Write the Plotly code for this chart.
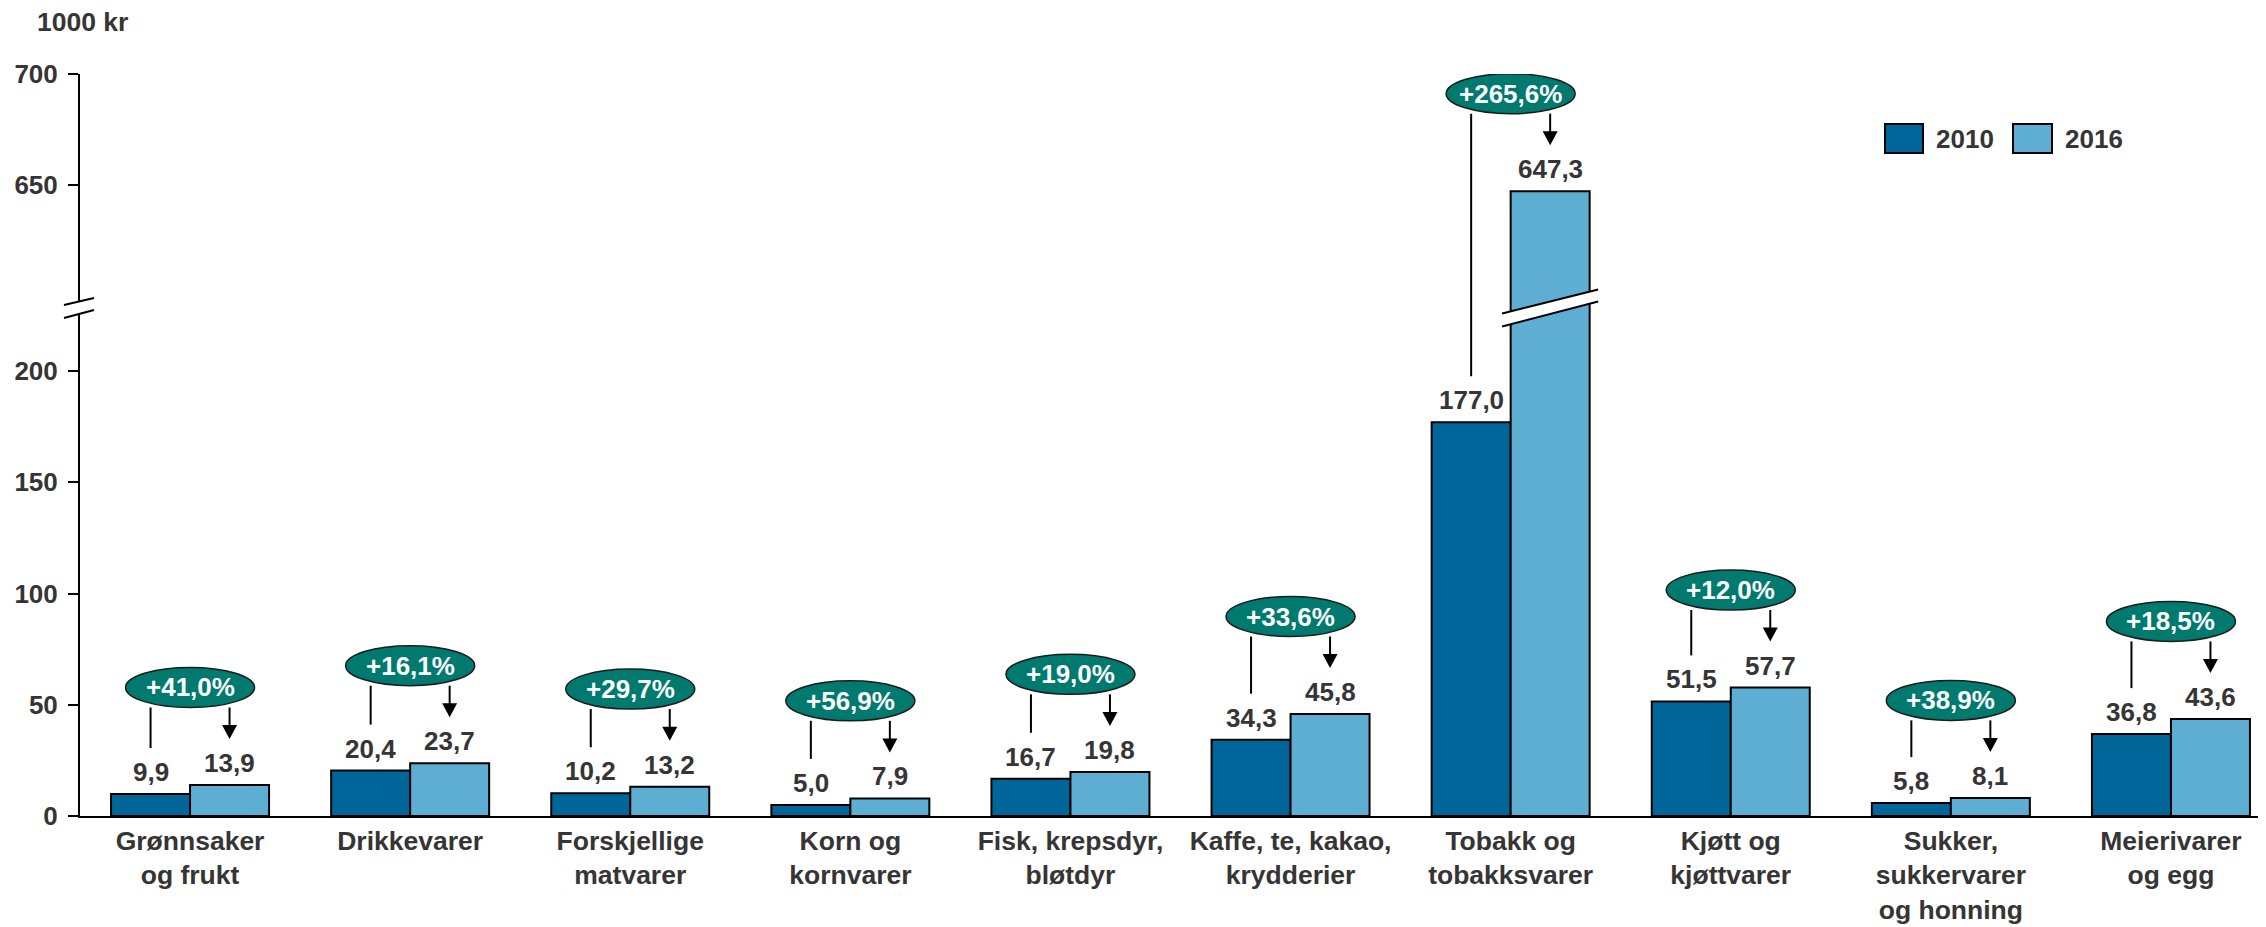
import plotly.graph_objects as go

# ---------------- data ----------------
categories = ["Grønnsaker<br>og frukt", "Drikkevarer", "Forskjellige<br>matvarer",
              "Korn og<br>kornvarer", "Fisk, krepsdyr,<br>bløtdyr",
              "Kaffe, te, kakao,<br>krydderier", "Tobakk og<br>tobakksvarer",
              "Kjøtt og<br>kjøttvarer", "Sukker,<br>sukkervarer<br>og honning",
              "Meierivarer<br>og egg"]
v2010 = [9.9, 20.4, 10.2, 5.0, 16.7, 34.3, 177.0, 51.5, 5.8, 36.8]
v2016 = [13.9, 23.7, 13.2, 7.9, 19.8, 45.8, 647.3, 57.7, 8.1, 43.6]
change = ["+41,0%", "+16,1%", "+29,7%", "+56,9%", "+19,0%", "+33,6%",
          "+265,6%", "+12,0%", "+38,9%", "+18,5%"]
series_names = ["2010", "2016"]
lower_ticks = [0, 50, 100, 150, 200]
upper_ticks = [650, 700]
y_top = 700
unit_label = "1000 kr"

# ---------------- styling / layout constants ----------------
OFF = 8                      # page body margin of the html page
W, H = 2266 - OFF, 927 - OFF
M_L, M_R, M_T, M_B = 80 - OFF, 0, 74 - OFF, 111
PLOT_W = W - M_L - M_R
PLOT_H = H - M_T - M_B
ZERO_PX = H - M_B            # figure pixel row of value 0
BREAK_PX = 308 - OFF         # figure pixel row of the axis break
PXU = 2.225                  # pixels per value unit
CAT_PX = 220.1               # pixels per category
BAR_OFF = 39.5               # bar centre offset from category centre (px)
GAP_PX = 46                  # gap between bar top and line end / arrow tip
ELL_OFF_PX = 97.6            # ellipse centre above highest bar (px)
ELL_HALF_H = 20
ELL_HALF_W = 64.5
HEAD_LEN, HEAD_HALF = 14, 7.5

C_2010 = "#006699"
C_2016 = "#5eadd3"
TEAL = "#00796e"
TXT = "#363434"
FONT = "Liberation Sans, Arial, sans-serif"
FS = 26
FS_CAT = 26.5

lower_frac = (ZERO_PX - BREAK_PX) / PLOT_H
lo_top = (ZERO_PX - BREAK_PX) / PXU
up_bot = y_top - (BREAK_PX - M_T) / PXU
x_max = -0.5 + PLOT_W / CAT_PX

def fx(px):   # page pixel -> paper x
    return (px - OFF - M_L) / PLOT_W

def fy(py):   # page pixel -> paper y
    return (H - M_B - (py - OFF)) / PLOT_H

fig = go.Figure()

colors = [C_2010, C_2016]
for xa, ya in (("x", "y"), ("x2", "y2")):
    for name, vals, col in zip(series_names, (v2010, v2016), colors):
        fig.add_trace(go.Bar(x=categories, y=vals, name=name, xaxis=xa, yaxis=ya,
                             marker=dict(color=col, line=dict(color="black", width=2)),
                             showlegend=False, hoverinfo="skip"))

shapes = []
annotations = []

def add_marks(xr, yr):
    for i, (a, b) in enumerate(zip(v2010, v2016)):
        vmax = max(a, b)
        ell_bottom = vmax + (ELL_OFF_PX - ELL_HALF_H) / PXU
        # line from ellipse down to 2010 bar
        shapes.append(dict(type="line", xref=xr, yref=yr, xsizemode="pixel", xanchor=i,
                           x0=-BAR_OFF, x1=-BAR_OFF, y0=a + GAP_PX / PXU, y1=ell_bottom,
                           line=dict(color="black", width=2), layer="above"))
        # arrow shaft to 2016 bar
        shapes.append(dict(type="line", xref=xr, yref=yr, xsizemode="pixel", xanchor=i,
                           x0=BAR_OFF, x1=BAR_OFF, y0=b + (GAP_PX + HEAD_LEN - 1) / PXU,
                           y1=ell_bottom, line=dict(color="black", width=2), layer="above"))
        # arrow head
        shapes.append(dict(type="path", xref=xr, yref=yr, xsizemode="pixel", ysizemode="pixel",
                           xanchor=i, yanchor=b,
                           path=(f"M {BAR_OFF},{GAP_PX} L {BAR_OFF - HEAD_HALF},{GAP_PX + HEAD_LEN} "
                                 f"L {BAR_OFF + HEAD_HALF},{GAP_PX + HEAD_LEN} Z"),
                           fillcolor="black", line=dict(width=0), layer="above"))
        # ellipse
        shapes.append(dict(type="circle", xref=xr, yref=yr, xsizemode="pixel", ysizemode="pixel",
                           xanchor=i, yanchor=vmax, x0=-ELL_HALF_W, x1=ELL_HALF_W,
                           y0=ELL_OFF_PX - ELL_HALF_H, y1=ELL_OFF_PX + ELL_HALF_H,
                           fillcolor=TEAL, line=dict(color="#1c1c1c", width=1.5), layer="above"))

add_marks("x", "y")
add_marks("x2", "y2")

# break across the tall bar (drawn in both panels, each clipped to its panel)
tall = max(range(len(v2016)), key=lambda k: v2016[k])
for yr, xr, anchor in (("y", "x", lo_top), ("y2", "x2", up_bot)):
    bo = BAR_OFF
    shapes.append(dict(type="path", xref=xr, yref=yr, xsizemode="pixel", ysizemode="pixel",
                       xanchor=tall, yanchor=anchor,
                       path=(f"M {bo-48},{-5.5} L {bo+48},{18.5} L {bo+48},{6.5} "
                             f"L {bo-48},{-18.5} Z"),
                       fillcolor="white", line=dict(width=0), layer="above"))
    for yl, yr2 in ((-5.5, 18.5), (-18.5, 6.5)):
        shapes.append(dict(type="line", xref=xr, yref=yr, xsizemode="pixel", ysizemode="pixel",
                           xanchor=tall, yanchor=anchor, x0=bo - 48, x1=bo + 48, y0=yl, y1=yr2,
                           line=dict(color="black", width=2), layer="above"))

# axis break marks
shapes.append(dict(type="path", xref="paper", yref="paper", xsizemode="pixel", ysizemode="pixel",
                   xanchor=0, yanchor=lower_frac,
                   path="M -16,3 L 14,10 L 14,-2 L -16,-10 Z",
                   fillcolor="white", line=dict(width=0), layer="above"))
for (x0, y0, x1, y1) in ((-16, 3, 14, 10), (-16, -10, 14, -2)):
    shapes.append(dict(type="line", xref="paper", yref="paper", xsizemode="pixel",
                       ysizemode="pixel", xanchor=0, yanchor=lower_frac,
                       x0=x0, x1=x1, y0=y0, y1=y1, line=dict(color="black", width=2),
                       layer="above"))

# value labels and percentage labels
def fmt(v):
    return f"{v:.1f}".replace(".", ",")

for i, (a, b) in enumerate(zip(v2010, v2016)):
    for v, sh in ((a, -BAR_OFF), (b, BAR_OFF)):
        up = v > lo_top
        annotations.append(dict(x=i, y=v, xref="x2" if up else "x", yref="y2" if up else "y",
                                text=fmt(v), showarrow=False, xshift=sh, yshift=5,
                                yanchor="bottom", font=dict(size=FS, color=TXT)))
    vmax = max(a, b)
    up = vmax > lo_top
    annotations.append(dict(x=i, y=vmax, xref="x2" if up else "x", yref="y2" if up else "y",
                            text=change[i], showarrow=False, yshift=ELL_OFF_PX, yanchor="middle",
                            font=dict(size=FS, color="white")))

# unit label
annotations.append(dict(x=fx(35), y=fy(22), xref="paper", yref="paper", text=unit_label,
                        showarrow=False, xanchor="left", yanchor="middle",
                        font=dict(size=FS_CAT, color=TXT)))

# custom legend
leg = [(1885, 1923, 1934), (2013, 2052, 2063)]
for (sx0, sx1, tx), name, col in zip(leg, series_names, colors):
    shapes.append(dict(type="rect", xref="paper", yref="paper", x0=fx(sx0), x1=fx(sx1),
                       y0=fy(153), y1=fy(124), fillcolor=col,
                       line=dict(color="black", width=2)))
    annotations.append(dict(x=fx(tx), y=fy(139), xref="paper", yref="paper", text=name,
                            showarrow=False, xanchor="left", yanchor="middle",
                            font=dict(size=FS, color=TXT)))

yaxis_common = dict(showline=True, linecolor="black", linewidth=2, ticks="outside",
                    ticklen=10, tickwidth=2, tickcolor="black", showgrid=False,
                    zeroline=False, tickfont=dict(size=FS, color=TXT), fixedrange=True,
                    ticklabelstandoff=5)

fig.update_layout(
    width=W, height=H,
    margin=dict(l=M_L, r=M_R, t=M_T, b=M_B, autoexpand=False),
    paper_bgcolor="white", plot_bgcolor="white",
    font=dict(family=FONT, size=FS, color=TXT, weight="bold"),
    barmode="group", bargap=1 - 2 * 79 / CAT_PX, bargroupgap=0,
    showlegend=False,
    xaxis=dict(domain=[0, 1], anchor="y", type="category", range=[-0.5, x_max],
               showline=True, linecolor="black", linewidth=2, ticks="", showgrid=False,
               tickfont=dict(size=FS_CAT, color=TXT), fixedrange=True),
    xaxis2=dict(domain=[0, 1], anchor="y2", matches="x", visible=False),
    yaxis=dict(domain=[0, lower_frac], anchor="x", range=[0, lo_top],
               tickvals=lower_ticks, **yaxis_common),
    yaxis2=dict(domain=[lower_frac, 1], anchor="x2", range=[up_bot, y_top],
                tickvals=upper_ticks, **yaxis_common),
    shapes=shapes, annotations=annotations,
)

fig.write_html("out.html")
